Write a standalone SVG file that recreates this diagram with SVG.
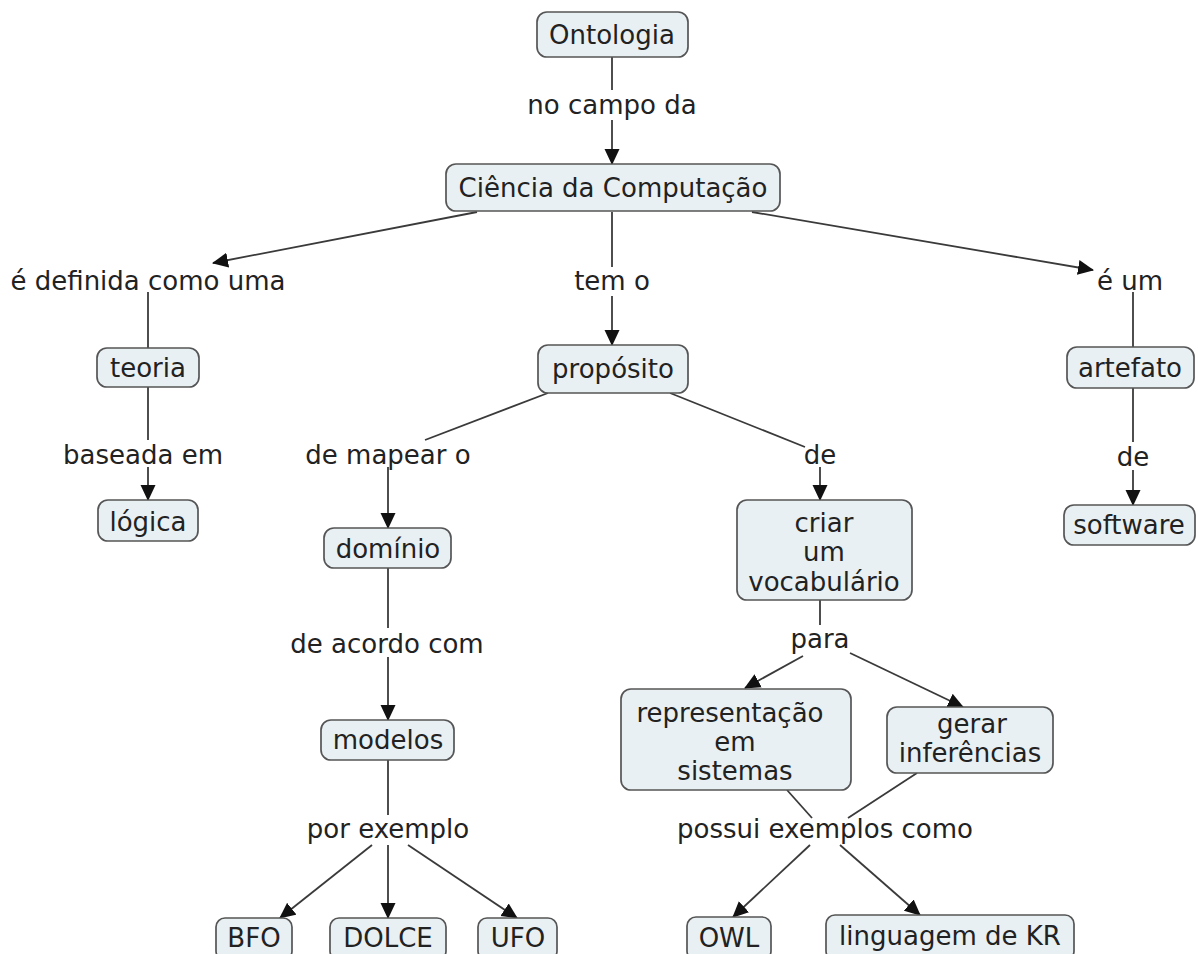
<svg xmlns="http://www.w3.org/2000/svg" width="1198" height="954" viewBox="0 0 1198 954">
  <style>
    .box { fill: #e9f0f3; stroke: #555; stroke-width: 1.7; }
    .t { font-family: "DejaVu Sans", Verdana, sans-serif; font-size: 26px; fill: #222; text-anchor: middle; }
    .c { stroke: #3a3a3a; stroke-width: 1.8; fill: none; }
    .a { marker-end: url(#arrow); }
  </style>
  <defs>
    <marker id="arrow" markerUnits="userSpaceOnUse" markerWidth="16" markerHeight="16" refX="15" refY="8" orient="auto">
      <path d="M0,0.5 L16,8 L0,15.5 z" fill="#111"/>
    </marker>
  </defs>
  <rect width="1198" height="954" fill="#fff"/>

  <!-- connectors -->
  <g id="connectors">
    <line class="c" x1="612" y1="57" x2="612" y2="90"/>
    <line class="c a" x1="612" y1="120" x2="612" y2="164"/>
    <line class="c a" x1="477" y1="212" x2="213" y2="263"/>
    <line class="c" x1="148" y1="292" x2="148" y2="348"/>
    <line class="c" x1="148" y1="387" x2="148" y2="440"/>
    <line class="c a" x1="148" y1="467" x2="148" y2="500"/>
    <line class="c" x1="612" y1="212" x2="612" y2="267"/>
    <line class="c a" x1="612" y1="296" x2="612" y2="345"/>
    <line class="c a" x1="752" y1="212" x2="1093" y2="270"/>
    <line class="c" x1="1133" y1="292" x2="1133" y2="347"/>
    <line class="c" x1="1133" y1="388" x2="1133" y2="442"/>
    <line class="c a" x1="1133" y1="470" x2="1133" y2="505"/>
    <line class="c" x1="548" y1="393" x2="425" y2="440"/>
    <line class="c a" x1="388" y1="467" x2="388" y2="528"/>
    <line class="c" x1="670" y1="393" x2="805" y2="447"/>
    <line class="c a" x1="820" y1="467" x2="820" y2="500"/>
    <line class="c" x1="388" y1="568" x2="388" y2="628"/>
    <line class="c a" x1="388" y1="657" x2="388" y2="720"/>
    <line class="c" x1="820" y1="600" x2="820" y2="625"/>
    <line class="c a" x1="803" y1="656" x2="745" y2="688"/>
    <line class="c a" x1="850" y1="653" x2="963" y2="707"/>
    <line class="c" x1="388" y1="760" x2="388" y2="815"/>
    <line class="c a" x1="372" y1="845" x2="280" y2="918"/>
    <line class="c a" x1="388" y1="845" x2="388" y2="918"/>
    <line class="c a" x1="408" y1="845" x2="517" y2="918"/>
    <line class="c" x1="787" y1="790" x2="812" y2="818"/>
    <line class="c" x1="917" y1="773" x2="848" y2="818"/>
    <line class="c a" x1="810" y1="845" x2="733" y2="917"/>
    <line class="c a" x1="840" y1="845" x2="920" y2="915"/>
  </g>

  <!-- linking phrases -->
  <g id="labels">
    <text class="t" x="612" y="114">no campo da</text>
    <text class="t" x="148" y="290">é definida como uma</text>
    <text class="t" x="612" y="290">tem o</text>
    <text class="t" x="1130" y="290">é um</text>
    <text class="t" x="143" y="464">baseada em</text>
    <text class="t" x="388" y="464">de mapear o</text>
    <text class="t" x="820" y="464">de</text>
    <text class="t" x="1133" y="466">de</text>
    <text class="t" x="387" y="653">de acordo com</text>
    <text class="t" x="820" y="648">para</text>
    <text class="t" x="388" y="838">por exemplo</text>
    <text class="t" x="825" y="838">possui exemplos como</text>
  </g>

  <!-- concepts -->
  <g id="ontologia">
    <rect class="box" x="537" y="12" width="151" height="45" rx="10"/>
    <text class="t" x="612" y="44">Ontologia</text>
  </g>
  <g id="ciencia">
    <rect class="box" x="446" y="164" width="334" height="47" rx="10"/>
    <text class="t" x="613" y="197">Ciência da Computação</text>
  </g>
  <g id="teoria">
    <rect class="box" x="97" y="348" width="102" height="39" rx="10"/>
    <text class="t" x="148" y="377">teoria</text>
  </g>
  <g id="proposito">
    <rect class="box" x="538" y="345" width="150" height="48" rx="10"/>
    <text class="t" x="613" y="378">propósito</text>
  </g>
  <g id="artefato">
    <rect class="box" x="1067" y="347" width="127" height="41" rx="10"/>
    <text class="t" x="1130" y="377">artefato</text>
  </g>
  <g id="logica">
    <rect class="box" x="98" y="500" width="100" height="41" rx="10"/>
    <text class="t" x="148" y="531">lógica</text>
  </g>
  <g id="dominio">
    <rect class="box" x="324" y="528" width="127" height="40" rx="10"/>
    <text class="t" x="388" y="558">domínio</text>
  </g>
  <g id="criar-vocabulario">
    <rect class="box" x="737" y="500" width="175" height="100" rx="10"/>
    <text class="t" x="824" y="532">criar</text>
    <text class="t" x="824" y="561">um</text>
    <text class="t" x="824" y="591">vocabulário</text>
  </g>
  <g id="software">
    <rect class="box" x="1064" y="505" width="131" height="40" rx="10"/>
    <text class="t" x="1129" y="534">software</text>
  </g>
  <g id="modelos">
    <rect class="box" x="321" y="720" width="133" height="40" rx="10"/>
    <text class="t" x="388" y="749">modelos</text>
  </g>
  <g id="representacao">
    <rect class="box" x="621" y="689" width="230" height="101" rx="10"/>
    <text class="t" x="730" y="722">representação</text>
    <text class="t" x="735" y="751">em</text>
    <text class="t" x="735" y="780">sistemas</text>
  </g>
  <g id="gerar-inferencias">
    <rect class="box" x="887" y="707" width="166" height="66" rx="10"/>
    <text class="t" x="972" y="733">gerar</text>
    <text class="t" x="970" y="762">inferências</text>
  </g>
  <g id="bfo">
    <rect class="box" x="216" y="918" width="76" height="42" rx="9"/>
    <text class="t" x="254" y="947">BFO</text>
  </g>
  <g id="dolce">
    <rect class="box" x="330" y="918" width="116" height="42" rx="9"/>
    <text class="t" x="388" y="947">DOLCE</text>
  </g>
  <g id="ufo">
    <rect class="box" x="478" y="918" width="79" height="42" rx="9"/>
    <text class="t" x="518" y="947">UFO</text>
  </g>
  <g id="owl">
    <rect class="box" x="687" y="917" width="84" height="43" rx="9"/>
    <text class="t" x="729" y="947">OWL</text>
  </g>
  <g id="linguagem-kr">
    <rect class="box" x="826" y="915" width="248" height="45" rx="9"/>
    <text class="t" x="950" y="945">linguagem de KR</text>
  </g>
</svg>
